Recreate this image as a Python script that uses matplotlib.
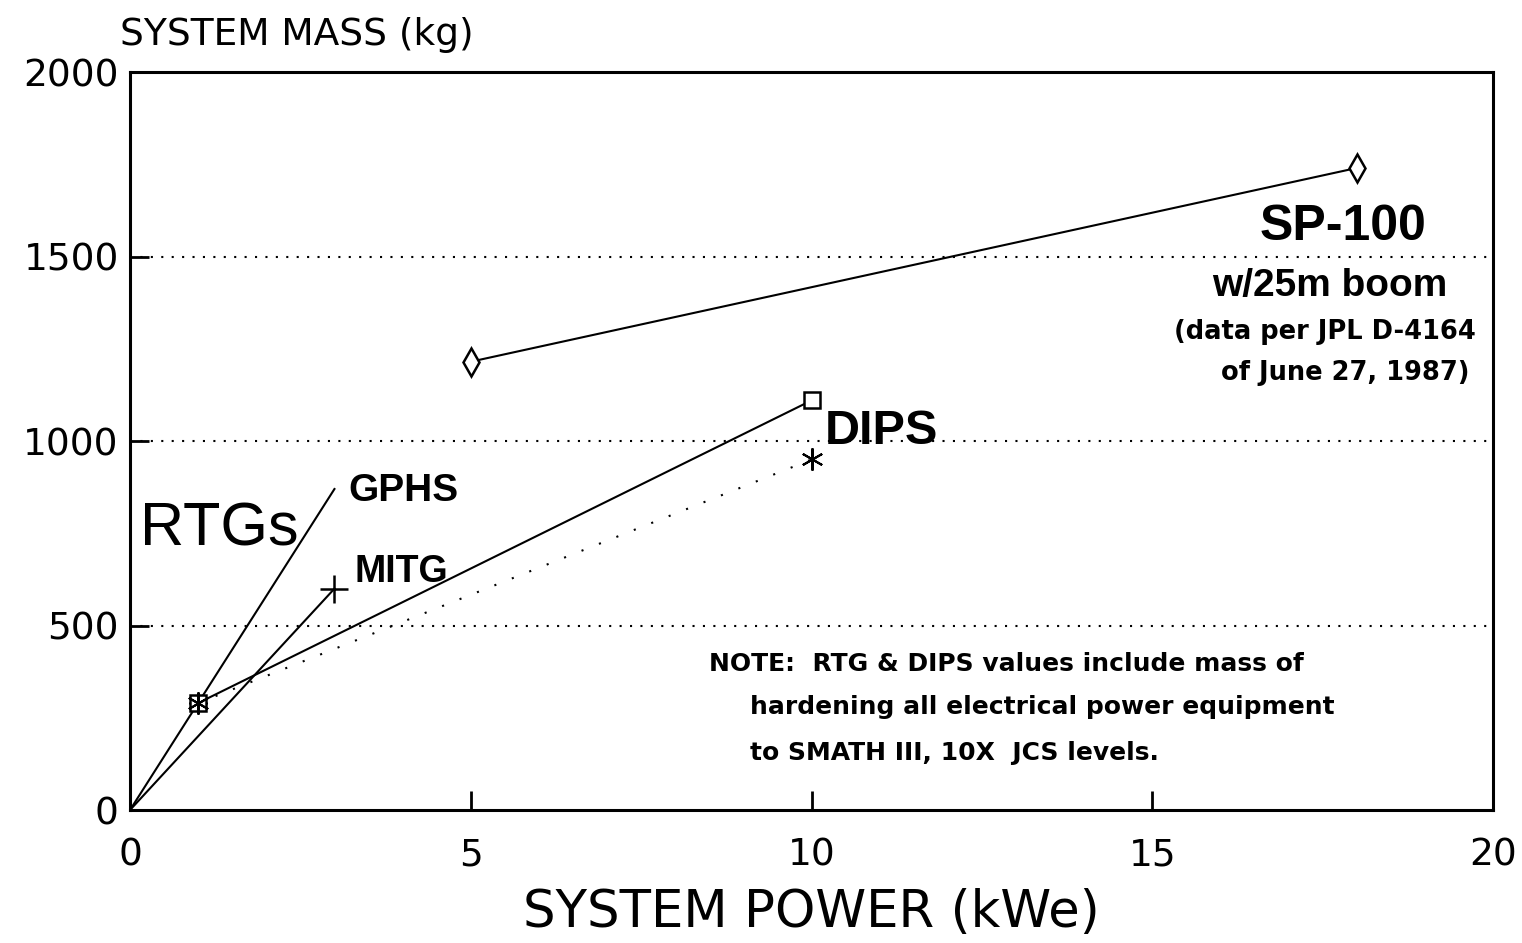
import matplotlib
matplotlib.use("Agg")
import matplotlib.pyplot as plt

plt.rcParams['font.family'] = ['Liberation Sans', 'DejaVu Sans']

# data (kWe, kg)
gphs_kw = [0, 1, 3]
gphs_kg = [0, 290, 870]
mitg_kw = [0, 3]
mitg_kg = [0, 600]
dips_kw = [1, 10]
dips_kg = [290, 1110]
dips_alt_kw = [1, 10]
dips_alt_kg = [290, 950]
sp100_kw = [5, 18]
sp100_kg = [1215, 1740]

x_ticks = [0, 5, 10, 15, 20]
y_ticks = [0, 500, 1000, 1500, 2000]
grid_levels = [500, 1000, 1500]

fig = plt.figure(figsize=(15.22, 9.43), dpi=100)
ax = fig.add_axes([0.0854, 0.141, 0.8956, 0.7826])

for lvl in grid_levels:
    ax.axhline(lvl, color='black', lw=1.5, linestyle=(0, (1, 4)), zorder=1)

lw = 1.5
ax.plot(gphs_kw, gphs_kg, color='black', lw=lw, marker='D', markersize=9,
        markerfacecolor='none', markevery=[1], zorder=3)
ax.plot(mitg_kw, mitg_kg, color='black', lw=lw, marker='+', markersize=20,
        markeredgewidth=1.8, markevery=[1], zorder=3)
ax.plot(dips_kw, dips_kg, color='black', lw=lw, marker='s', markersize=12,
        markerfacecolor='white', markeredgewidth=1.8, zorder=3)
ax.plot(dips_alt_kw, dips_alt_kg, color='black', lw=lw, linestyle=(0, (1, 8)),
        marker=(6, 2, 0), markersize=16, markeredgewidth=1.5, zorder=3)
ax.plot(sp100_kw, sp100_kg, color='black', lw=lw, marker='d', markersize=14,
        markerfacecolor='white', markeredgewidth=1.8, zorder=3)

ax.set_xlim(0, 20)
ax.set_ylim(0, 2000)
ax.set_xticks(x_ticks)
ax.set_yticks(y_ticks)
ax.tick_params(direction='in', length=14, width=2)
ax.tick_params(axis='x', pad=20)
ax.tick_params(axis='y', pad=8)
for lab in ax.get_xticklabels() + ax.get_yticklabels():
    lab.set_family('DejaVu Sans')
    lab.set_fontsize(27)
for s in ax.spines.values():
    s.set_linewidth(2.2)

ax.set_xlabel('SYSTEM POWER (kWe)', fontsize=37, family='DejaVu Sans', labelpad=10)
fig.text(0.079, 0.963, 'SYSTEM MASS (kg)', fontsize=27, family='DejaVu Sans',
         ha='left', va='center')

# annotations
ax.text(0.15, 760, 'RTGs', fontsize=44, ha='left', va='center')
ax.text(3.2, 865, 'GPHS', fontsize=28, fontweight='bold', ha='left', va='center')
ax.text(3.3, 645, 'MITG', fontsize=27, fontweight='bold', ha='left', va='center')
ax.text(10.2, 1025, 'DIPS', fontsize=35, fontweight='bold', ha='left', va='center')
ax.text(17.8, 1580, 'SP-100', fontsize=36, fontweight='bold', ha='center', va='center')
ax.text(17.6, 1420, 'w/25m boom', fontsize=28, fontweight='bold', ha='center', va='center')
ax.text(19.75, 1295, '(data per JPL D-4164', fontsize=18.5, fontweight='bold',
        family='DejaVu Sans', ha='right', va='center')
ax.text(19.65, 1185, 'of June 27, 1987)', fontsize=18.5, fontweight='bold',
        family='DejaVu Sans', ha='right', va='center')

note_kw = dict(fontsize=18, fontweight='bold', family='DejaVu Sans',
               ha='left', va='center')
ax.text(8.5, 395, 'NOTE:  RTG & DIPS values include mass of', **note_kw)
ax.text(9.1, 280, 'hardening all electrical power equipment', **note_kw)
ax.text(9.1, 155, 'to SMATH III, 10X  JCS levels.', **note_kw)

fig.savefig('out.png', dpi=100, facecolor='white')
